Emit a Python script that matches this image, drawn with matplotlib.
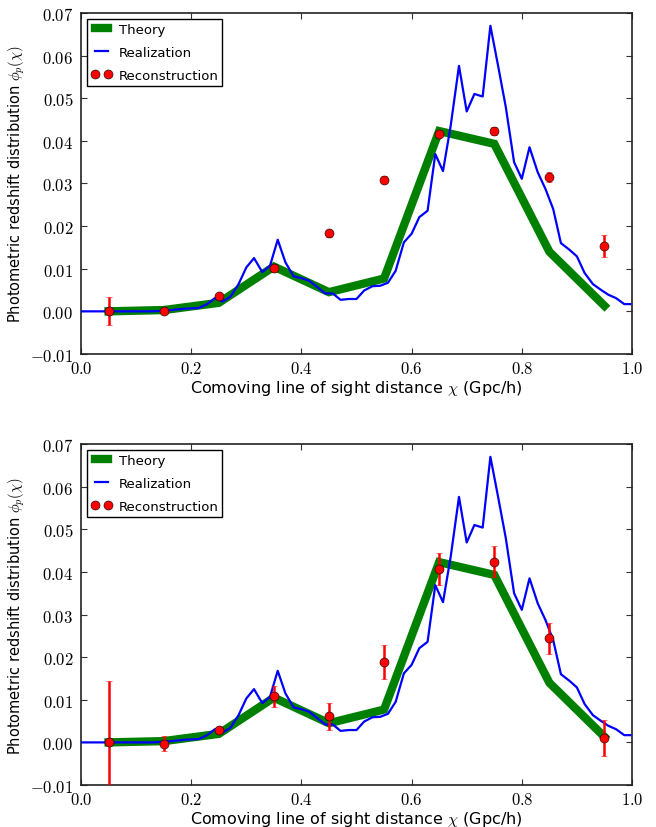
import numpy as np
import matplotlib
matplotlib.use("Agg")
import matplotlib.pyplot as plt
from matplotlib.ticker import FuncFormatter
from matplotlib.lines import Line2D

plt.rcParams['font.family'] = ['DejaVu Sans']
plt.rcParams['mathtext.fontset'] = 'cm'

# ---------------- data ----------------
theory_x = [0.05, 0.15, 0.25, 0.35, 0.45, 0.55, 0.65, 0.75, 0.85, 0.95]
theory_y = [0.0, 0.0003, 0.0020, 0.0105, 0.0045, 0.0077, 0.0423, 0.0393, 0.0140, 0.0013]

real_x = [0.000, 0.014, 0.029, 0.043, 0.057, 0.071, 0.086, 0.100, 0.114, 0.129,
          0.143, 0.157, 0.171, 0.186, 0.200, 0.214, 0.229, 0.243, 0.257, 0.271,
          0.286, 0.300, 0.314, 0.329, 0.343, 0.357, 0.371, 0.386, 0.400, 0.414,
          0.429, 0.443, 0.457, 0.471, 0.486, 0.500, 0.514, 0.529, 0.543, 0.557,
          0.571, 0.586, 0.600, 0.614, 0.629, 0.643, 0.657, 0.671, 0.686, 0.700,
          0.714, 0.729, 0.743, 0.757, 0.771, 0.786, 0.800, 0.814, 0.829, 0.843,
          0.857, 0.871, 0.886, 0.900, 0.914, 0.929, 0.943, 0.957, 0.971, 0.986,
          0.997]
real_y = [0.0, 0.0, 0.0, 0.0, 0.0, 0.0, 0.0, 0.0, 0.0, 0.0,
          0.0001, 0.0002, 0.0004, 0.0006, 0.0007, 0.0008, 0.0017, 0.0031, 0.0023, 0.0034,
          0.0064, 0.0103, 0.0125, 0.0092, 0.0107, 0.0168, 0.0115, 0.0082, 0.0078, 0.0072,
          0.0057, 0.0042, 0.0042, 0.0027, 0.0029, 0.0029, 0.0049, 0.0059, 0.0060, 0.0067,
          0.0095, 0.0162, 0.0182, 0.0221, 0.0236, 0.0369, 0.0329, 0.0436, 0.0576, 0.0469,
          0.0510, 0.0504, 0.0670, 0.0576, 0.0479, 0.0350, 0.0311, 0.0385, 0.0326, 0.0287,
          0.0240, 0.0160, 0.0145, 0.0129, 0.0090, 0.0064, 0.0051, 0.0039, 0.0031, 0.0017,
          0.0017]

rec_x = [0.05, 0.15, 0.25, 0.35, 0.45, 0.55, 0.65, 0.75, 0.85, 0.95]
rec_top_y = [0.0, 0.0, 0.0037, 0.0101, 0.0183, 0.0309, 0.0417, 0.0423, 0.0315, 0.0154]
rec_top_err = [0.0033, 0.0003, 0.0005, 0.0008, 0.0009, 0.0009, 0.0008, 0.0009, 0.0011, 0.0026]
rec_bot_y = [0.0, -0.0003, 0.0029, 0.0108, 0.0061, 0.0189, 0.0407, 0.0424, 0.0244, 0.0010]
rec_bot_err = [0.0145, 0.0018, 0.0007, 0.0024, 0.0031, 0.0040, 0.0037, 0.0037, 0.0037, 0.0042]

xticks = [0.0, 0.2, 0.4, 0.6, 0.8, 1.0]
yticks = [-0.01, 0.0, 0.01, 0.02, 0.03, 0.04, 0.05, 0.06, 0.07]

# ---------------- figure ----------------
fig = plt.figure(figsize=(6.56, 8.28), dpi=100)
ax_top = fig.add_axes([0.1235, 0.5713, 0.8399, 0.4118])
ax_bot = fig.add_axes([0.1235, 0.0507, 0.8399, 0.4118])

for ax, ry, re in [(ax_top, rec_top_y, rec_top_err), (ax_bot, rec_bot_y, rec_bot_err)]:
    h1, = ax.plot(theory_x, theory_y, color='green', lw=6, label='Theory', zorder=2,
                  solid_joinstyle='miter')
    h2, = ax.plot(real_x, real_y, color='blue', lw=1.6, label='Realization', zorder=3)
    ax.errorbar(rec_x, ry, yerr=re, fmt='o', color='red', ecolor='red',
                mec='black', mew=0.4, ms=6.5, elinewidth=1.8, capsize=2.5,
                capthick=1.0, zorder=4)
    h3 = Line2D([], [], ls='none', marker='o', color='red', mec='black',
                mew=0.4, ms=6.5)
    ax.set_xlim(0.0, 1.0)
    ax.set_ylim(-0.01, 0.07)
    ax.set_xticks(xticks)
    ax.set_yticks(yticks)
    ax.xaxis.set_major_formatter(FuncFormatter(lambda v, p: r'$%.1f$' % v))
    ax.yaxis.set_major_formatter(FuncFormatter(lambda v, p: r'$%.2f$' % v))
    ax.tick_params(direction='in', top=True, right=True, length=4, width=0.8,
                   labelsize=12, colors='#333333', labelcolor='black', pad=5.5)
    ax.tick_params(axis='x', pad=3.5)
    for s in ax.spines.values():
        s.set_linewidth(1.2)
        s.set_color('#222222')
    ax.set_xlabel(r'Comoving line of sight distance $\chi$ (Gpc/h)', fontsize=11.5, labelpad=0.5)
    ax.set_ylabel(r'Photometric redshift distribution $\phi_p(\chi)$', fontsize=10.5, labelpad=2)
    leg = ax.legend([h1, h2, h3], ['Theory', 'Realization', 'Reconstruction'],
                    loc='upper left', numpoints=2, fontsize=9.5, fancybox=False,
                    framealpha=1.0, edgecolor='black', handlelength=1.6,
                    handletextpad=0.5, borderaxespad=0.45, labelspacing=0.75,
                    borderpad=0.3)
    leg.get_frame().set_linewidth(1.0)

fig.savefig('out.png', dpi=100)
